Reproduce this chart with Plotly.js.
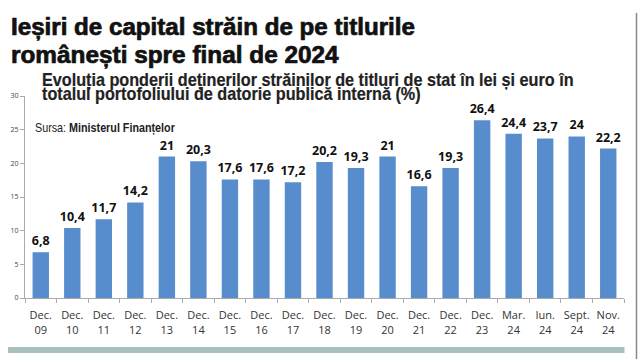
<!DOCTYPE html>
<html><head><meta charset="utf-8">
<script src="https://cdn.plot.ly/plotly-3.0.1.min.js"></script>
<style>body{margin:0;background:#fff}#c{width:639px;height:359px}</style>
</head><body><div id="c"></div>
<script>
const categories = ["Dec.<br>09","Dec.<br>10","Dec.<br>11","Dec.<br>12","Dec.<br>13","Dec.<br>14","Dec.<br>15","Dec.<br>16","Dec.<br>17","Dec.<br>18","Dec.<br>19","Dec.<br>20","Dec.<br>21","Dec.<br>22","Dec.<br>23","Mar.<br>24","Iun.<br>24","Sept.<br>24","Nov.<br>24"];
const values = [6.8,10.4,11.7,14.2,21,20.3,17.6,17.6,17.2,20.2,19.3,21,16.6,19.3,26.4,24.4,23.7,24,22.2];
const labels = values.map(v => String(v).replace('.', ','));
const yTicks = [0,5,10,15,20,25,30];
const titleLines = ["Ieșiri de capital străin de pe titlurile", "românești spre final de 2024"];
const subtitleLines = ["Evoluția ponderii deținerilor străinilor de titluri de stat în lei și euro în", "totalul portofoliului de datorie publică internă (%)"];
const sourceText = "Sursa: <b>Ministerul Finanțelor</b>";

// pixel helpers for paper coords (plot area x: 25..624.5, y: 96..298)
const px = x => (x - 25) / 599.5;
const py = y => (298 - y) / 202;

const sans = "Liberation Sans, Arial, sans-serif";
const trace = {
  type: 'bar', x: categories, y: values, text: labels,
  textposition: 'outside', cliponaxis: false, constraintext: 'none',
  textfont: {family: "Open Sans, sans-serif", size: 12.5, color: '#111', weight: 700},
  marker: {color: '#588dcd'}, hoverinfo: 'none'
};
// each annotation gets a target width (px) used to condense it horizontally
const annSpecs = [
  {text: '<b>' + titleLines[0] + '</b>', x: 9, y: 12, size: 23, color: '#111', w: 404, stroke: 0.7},
  {text: '<b>' + titleLines[1] + '</b>', x: 9, y: 40, size: 23, color: '#111', w: 328, stroke: 0.7},
  {text: '<b>' + subtitleLines[0] + '</b>', x: 40, y: 67.5, size: 18, color: '#222', w: 532, stroke: 0.2},
  {text: '<b>' + subtitleLines[1] + '</b>', x: 40, y: 82, size: 18, color: '#222', w: 379, stroke: 0.2},
  {text: sourceText, x: 33, y: 118, size: 13, color: '#222', w: 140, stroke: 0}
];
const layout = {
  width: 639, height: 359,
  margin: {l: 25, r: 14.5, t: 96, b: 61},
  paper_bgcolor: '#fff', plot_bgcolor: '#fff',
  bargap: 0.48, showlegend: false,
  xaxis: {type: 'category', tickson: 'boundaries', ticks: 'outside', ticklen: 4, tickcolor: '#aaa',
          tickangle: 0, ticklabelstandoff: 7,
          showline: true, linecolor: '#aaa', linewidth: 1, showgrid: false,
          tickfont: {family: "Open Sans, sans-serif", size: 11, color: '#333'}},
  yaxis: {range: [0, 30], tickvals: yTicks, ticks: 'outside', ticklen: 4, tickcolor: '#aaa',
          showline: true, linecolor: '#aaa', linewidth: 1, showgrid: false, zeroline: false,
          tickfont: {family: "Open Sans, sans-serif", size: 7, color: '#444'}},
  annotations: annSpecs.map(a => ({
    xref: 'paper', yref: 'paper', x: px(a.x), y: py(a.y), xanchor: 'left', yanchor: 'top', align: 'left',
    showarrow: false, text: a.text, font: {family: sans, size: a.size, color: a.color}
  })),
  shapes: [
    {type: 'rect', xref: 'paper', yref: 'paper', x0: px(8), x1: px(625),
     y0: py(353), y1: py(347), fillcolor: '#a9c0c0', line: {width: 0}},
    {type: 'line', xref: 'paper', yref: 'paper', x0: px(637), x1: px(637),
     y0: py(359), y1: py(13), line: {color: '#888', width: 1.5}}
  ]
};
Plotly.newPlot('c', [trace], layout, {staticPlot: true, displayModeBar: false}).then(gd => {
  const texts = gd.querySelectorAll('.annotation-text');
  texts.forEach((t, i) => {
    const spec = annSpecs[i];
    if (!spec) return;
    const bb = t.getBBox();
    const s = spec.w / bb.width;
    t.setAttribute('transform', `translate(${bb.x * (1 - s)},0) scale(${s},1)`);
    if (spec.stroke) {
      t.style.stroke = spec.color;
      t.style.strokeWidth = spec.stroke + 'px';
    }
  });
});
</script></body></html>
